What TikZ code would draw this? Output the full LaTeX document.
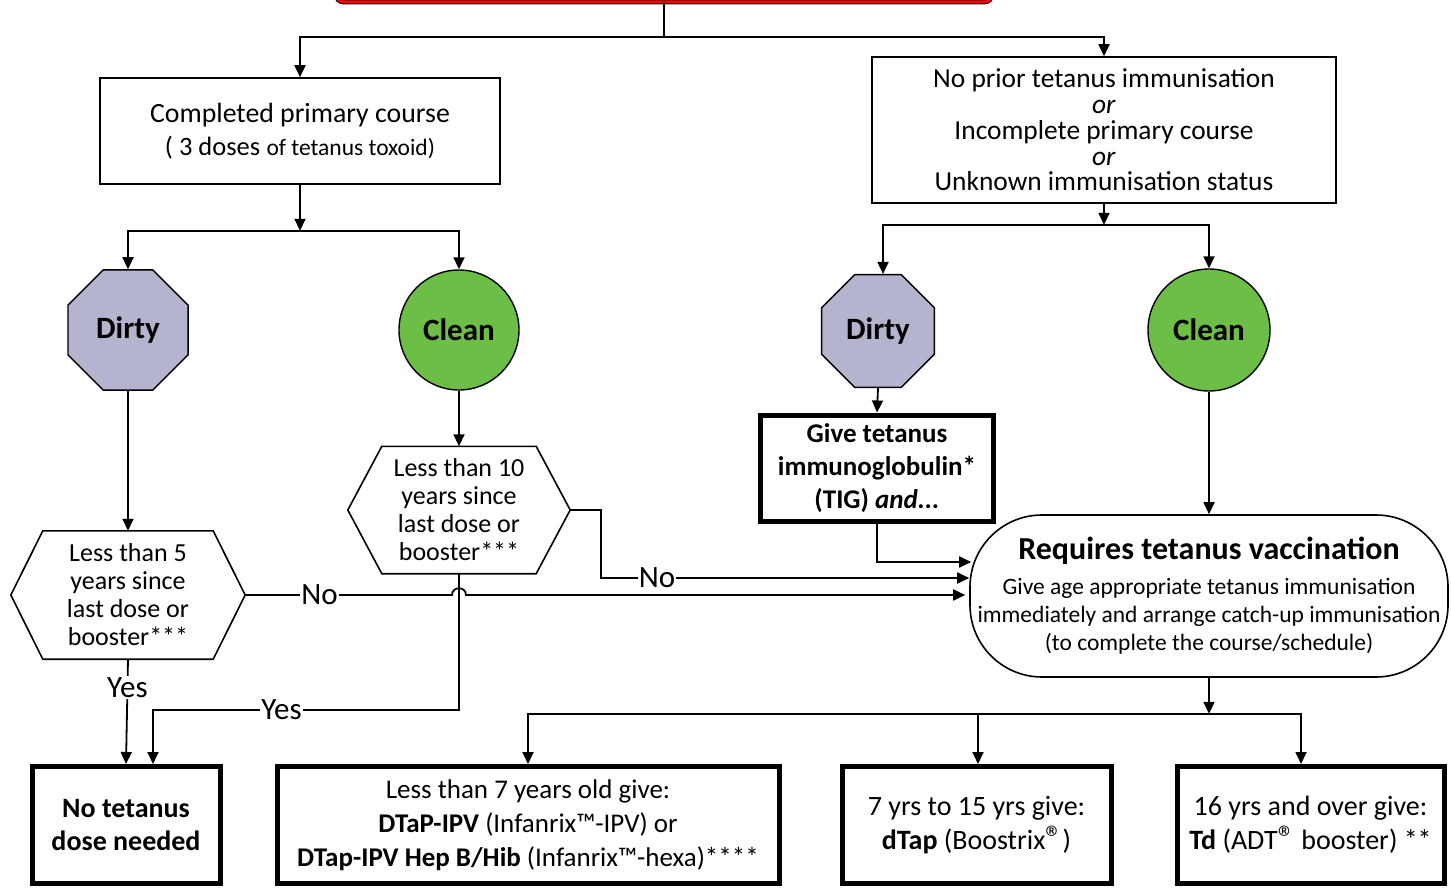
\documentclass[tikz,border=0pt]{standalone}
\usepackage{fontspec}
\setmainfont{Carlito}
\usetikzlibrary{shapes.geometric,arrows.meta,calc}
\definecolor{dirtyc}{RGB}{180,180,206}
\definecolor{cleanc}{RGB}{108,190,70}
\newcommand\regmark{{\fontsize{34}{34}\selectfont ®}}
\begin{document}
\begin{tikzpicture}[x=1pt,y=-1pt,
  ln/.style={line width=1.8pt},
  conn/.style={ln,-{Triangle[length=12pt,width=11pt]}},
  box/.style={draw,line width=1.6pt,fill=white,align=center,inner sep=0pt},
  tbox/.style={draw,line width=5pt,fill=white,align=center,inner sep=0pt},
  lab/.style={fill=white,inner sep=1pt,font=\fontsize{31}{31}\selectfont},
  hexnode/.style={inner sep=0pt,align=center,font=\fontsize{26}{28}\selectfont},
  hexline/.style={line width=1.6pt},
  octo/.style={regular polygon,regular polygon sides=8,draw,line width=1.4pt,fill=dirtyc,inner sep=0pt,font=\fontsize{31}{31}\selectfont\bfseries},
  roundc/.style={circle,draw,line width=1.4pt,fill=cleanc,inner sep=0pt,font=\fontsize{31}{31}\selectfont\bfseries}
]
\useasboundingbox (0,0) rectangle (1451,893);

% top (cut-off) box
\node[draw=black,double=red,double distance=3pt,line width=1pt,minimum width=656pt,minimum height=80pt,rounded corners=8pt] (top) at (664,-38) {};

% second level
\node[box,minimum width=400pt,minimum height=106pt,font=\fontsize{27.8}{33}\selectfont] (cpc) at (300,131)
  {Completed primary course\\ {\fontsize{26.5}{33}\selectfont( 3 doses} {\fontsize{23.5}{33}\selectfont of tetanus toxoid)}};
\node[box,minimum width=464pt,minimum height=146pt,font=\fontsize{27.4}{25.7}\selectfont] (nb) at (1104,130)
  {No prior tetanus immunisation\\ \textit{or}\\ Incomplete primary course\\ \textit{or}\\ Unknown immunisation status};

% dirty / clean
\node[octo,minimum size=130pt] (d1) at (128,330) {Dirty};
\node[roundc,minimum size=120pt] (c1) at (459,330) {Clean};
\node[octo,minimum size=122pt] (d2) at (878,331) {Dirty};
\node[roundc,minimum size=122pt] (c2) at (1209,330) {Clean};

% hexagons
\node[hexnode,minimum width=234pt,minimum height=128pt] (h1) at (128,595)
  {Less than 5\\ years since\\ last dose or\\ booster***};
\draw[hexline] (h1.west) -- ($(h1.north west)+(32,0)$) -- ($(h1.north east)+(-32,0)$) -- (h1.east)
  -- ($(h1.south east)+(-32,0)$) -- ($(h1.south west)+(32,0)$) -- cycle;
\node[hexnode,minimum width=222pt,minimum height=127pt] (h2) at (459,510)
  {Less than 10\\ years since\\ last dose or\\ booster***};
\draw[hexline] (h2.west) -- ($(h2.north west)+(34,0)$) -- ($(h2.north east)+(-34,0)$) -- (h2.east)
  -- ($(h2.south east)+(-34,0)$) -- ($(h2.south west)+(34,0)$) -- cycle;

% TIG and requires
\node[tbox,minimum width=233pt,minimum height=106pt,font=\fontsize{27}{33}\selectfont\bfseries] (tig) at (877,468)
  {Give tetanus\\ immunoglobulin*\\ (TIG) \textit{and...}};
\node[box,minimum width=478pt,minimum height=162pt,rounded corners=72pt,font=\fontsize{23.5}{28}\selectfont] (req) at (1209,596)
  {{\fontsize{32}{28}\selectfont\bfseries Requires tetanus vaccination}\\[7pt]
   Give age appropriate tetanus immunisation\\
   immediately and arrange catch-up immunisation\\
   (to complete the course/schedule)};

% bottom boxes
\node[tbox,minimum width=188pt,minimum height=117pt,font=\fontsize{28}{33}\selectfont\bfseries] (b1) at (126,825)
  {No tetanus\\ dose needed};
\node[tbox,minimum width=502pt,minimum height=117pt,font=\fontsize{27}{34}\selectfont] (b2) at (528,825)
  {Less than 7 years old give:\\ \textbf{DTaP-IPV} (Infanrix™-IPV) or\\ \textbf{DTap-IPV Hep B/Hib} (Infanrix™-hexa)****};
\node[tbox,minimum width=269pt,minimum height=117pt,font=\fontsize{28}{34}\selectfont] (b3) at (976.5,825)
  {7 yrs to 15 yrs give:\\ \textbf{dTap} (Boostrix\regmark)};
\node[tbox,minimum width=267pt,minimum height=117pt,font=\fontsize{28}{34}\selectfont] (b4) at (1310.5,825)
  {16 yrs and over give:\\ \textbf{Td} (ADT\regmark\ booster) **};

% connectors top
\coordinate (j0) at (664,37);
\draw[ln] (top.south) -- (j0);
\draw[conn] (j0) -| (cpc.north);
\draw[conn] (j0) -| (nb.north);

\coordinate (j1) at ($(cpc.south)+(0,46)$);
\draw[conn] (cpc.south) -- (j1);
\draw[conn] (j1) -| (d1.north);
\draw[conn] (j1) -| (c1.north);

\coordinate (j2) at ($(nb.south)+(0,21)$);
\draw[conn] (nb.south) -- (j2);
\draw[conn] (j2) -| ($(d2.north)+(5,0)$);
\draw[conn] (j2) -| (c2.north);

\draw[conn] (d1.south) -- (h1.north);
\draw[conn] (c1.south) -- (h2.north);
\draw[conn] (d2.south) -- (tig.north);
\draw[conn] (c2.south) -- (req.north);

% into requires
\coordinate (e1) at ($(req.west)+(-4,-1)$);
\coordinate (e2) at ($(req.west)+(0,-18)$);
\coordinate (e3) at ($(req.west)+(2,-34)$);
\coordinate (jx) at (h2.south |- h1.east);
\draw[conn] (h1.east) -- node[lab,pos=0.36]{No} ($(jx)+(-7,0)$)
  .. controls ($(jx)+(-7,-9)$) and ($(jx)+(7,-9)$) .. ($(jx)+(7,0)$) -- (e1);
\draw[conn] (h2.east) -- ++(31,0) |- node[lab,pos=0.576]{No} (e2);
\draw[conn] (tig.south) |- (e3);

% yes branches
\draw[conn] (h2.south) |- node[lab,pos=0.79]{Yes} ($(b1.north)+(27,-54)$) -- ($(b1.north)+(27,0)$);
\draw[conn] (h1.south) -- node[lab,pos=0.27]{Yes} (b1.north);

% bottom branches
\coordinate (j3) at ($(req.south)+(0,36)$);
\draw[conn] (req.south) -- (j3);
\draw[conn] (j3) -| (b2.north);
\draw[conn] (j3) -| ($(b3.north)+(1.5,0)$);
\draw[conn] (j3) -| ($(b4.north)+(-9.5,0)$);
\end{tikzpicture}
\end{document}
